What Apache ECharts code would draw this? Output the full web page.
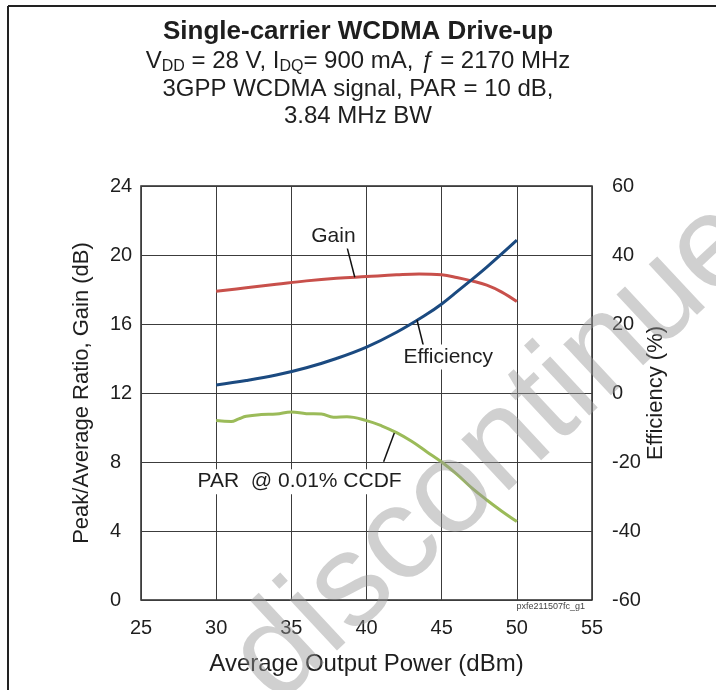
<!DOCTYPE html>
<html>
<head>
<meta charset="utf-8">
<title>Single-carrier WCDMA Drive-up</title>
<script src="https://cdn.jsdelivr.net/npm/echarts@6/dist/echarts.min.js"></script>
<style>
  html, body { margin: 0; padding: 0; background: #fff; }
  #main { width: 716px; height: 690px; }
</style>
</head>
<body>
<div id="main"></div>
<script>
// values
var gainX = [30, 32, 34, 36, 38, 40, 42, 43.5, 45, 46, 47, 48, 49, 50];
var gain = [17.9, 18.1, 18.3, 18.5, 18.65, 18.75, 18.85, 18.9, 18.85, 18.7, 18.5, 18.25, 17.85, 17.3];

var effX = [30, 32, 34, 36, 38, 40, 42, 44, 45, 46, 48, 50];
var eff = [2.3, 3.6, 5.2, 7.3, 10.0, 13.3, 17.6, 22.8, 25.8, 29.3, 36.5, 44.3];

var parX = [30, 31, 31.5, 32, 33, 34, 35, 36, 37, 37.8, 38.7, 40, 41, 42, 43, 44, 45, 46, 47, 48, 49, 50];
var par = [10.4, 10.35, 10.5, 10.65, 10.75, 10.78, 10.9, 10.8, 10.78, 10.6, 10.62, 10.4, 10.1, 9.7, 9.2, 8.6, 8.0, 7.3, 6.5, 5.8, 5.15, 4.55];

var xTicks = [25, 30, 35, 40, 45, 50, 55];
var leftTicks = [0, 4, 8, 12, 16, 20, 24];
var rightTicks = [-60, -40, -20, 0, 20, 40, 60];

function pairs(xs, ys) {
  var out = [];
  for (var i = 0; i < xs.length; i++) out.push([xs[i], ys[i]]);
  return out;
}

var FONT = '"Liberation Sans", Arial, Helvetica, sans-serif';
var INK = '#1e1e1e';
var GRIDC = '#3c3c3c';

var noteLabel = {
  show: true,
  position: 'inside',
  fontFamily: FONT,
  fontSize: 21,
  color: INK,
  backgroundColor: '#fff',
  padding: [2, 4]
};
var leader = { color: '#111', width: 1.5, type: 'solid' };

function note(x, y, text) {
  return {
    coord: [x, y],
    symbol: 'circle',
    symbolSize: 1,
    itemStyle: { color: 'rgba(0,0,0,0)' },
    label: Object.assign({}, noteLabel, { formatter: text })
  };
}

var subStyle = { fontFamily: FONT, fontSize: 24, fontWeight: 'normal', color: INK, lineHeight: 28 };

var myChart = echarts.init(document.getElementById('main'));

var option = {
  backgroundColor: '#fff',
  animation: false,
  textStyle: { fontFamily: FONT },
  title: [
    {
      text: 'Single-carrier WCDMA Drive-up',
      left: 'center', top: 17, padding: 0,
      textStyle: { fontFamily: FONT, fontSize: 26, fontWeight: 'bold', color: INK, lineHeight: 30 }
    },
    {
      text: '{n|V}{s|DD}{n| = 28 V, I}{s|DQ}{n|= 900 mA, }{i|ƒ}{n| = 2170 MHz}',
      left: 'center', top: 47, padding: 0,
      textStyle: Object.assign({}, subStyle, {
        rich: {
          n: subStyle,
          s: { fontFamily: FONT, fontSize: 16, fontWeight: 'normal', color: INK, lineHeight: 10, verticalAlign: 'bottom' },
          i: Object.assign({}, subStyle, { fontStyle: 'italic' })
        }
      })
    },
    {
      text: '3GPP WCDMA signal, PAR = 10 dB,',
      left: 'center', top: 75, padding: 0,
      textStyle: subStyle
    },
    {
      text: '3.84 MHz BW',
      left: 'center', top: 102, padding: 0,
      textStyle: subStyle
    }
  ],
  grid: {
    left: 141, right: 124, top: 186, bottom: 90,
    show: true, borderColor: '#2a2a2a', borderWidth: 1.5
  },
  xAxis: {
    type: 'value',
    min: xTicks[0], max: xTicks[xTicks.length - 1], interval: 5,
    name: 'Average Output Power (dBm)',
    nameLocation: 'middle', nameGap: 52, nameMoveOverlap: false,
    nameTextStyle: { fontFamily: FONT, fontSize: 24, color: INK },
    axisLine: { show: false },
    axisTick: { show: false },
    axisLabel: { fontFamily: FONT, fontSize: 20, color: INK, margin: 18 },
    splitLine: { show: true, lineStyle: { color: GRIDC, width: 1 } }
  },
  yAxis: [
    {
      type: 'value',
      min: leftTicks[0], max: leftTicks[leftTicks.length - 1], interval: 4,
      name: 'Peak/Average Ratio, Gain (dB)',
      nameLocation: 'middle', nameGap: 48, nameRotate: 90, nameMoveOverlap: false,
      nameTextStyle: { fontFamily: FONT, fontSize: 22, color: INK },
      axisLine: { show: false },
      axisTick: { show: false },
      axisLabel: { fontFamily: FONT, fontSize: 20, color: INK, margin: 31, align: 'left' },
      splitLine: { show: true, lineStyle: { color: GRIDC, width: 1 } }
    },
    {
      type: 'value',
      position: 'right',
      min: rightTicks[0], max: rightTicks[rightTicks.length - 1], interval: 20,
      name: 'Efficiency (%)',
      nameLocation: 'middle', nameGap: 53, nameRotate: 90, nameMoveOverlap: false,
      nameTextStyle: { fontFamily: FONT, fontSize: 22, color: INK },
      axisLine: { show: false },
      axisTick: { show: false },
      axisLabel: { fontFamily: FONT, fontSize: 20, color: INK, margin: 20 },
      splitLine: { show: false }
    }
  ],
  series: [
    {
      name: 'Gain',
      type: 'line',
      yAxisIndex: 0,
      smooth: 0.4,
      showSymbol: false,
      lineStyle: { color: '#c8504b', width: 3 },
      itemStyle: { color: '#c8504b' },
      data: pairs(gainX, gain),
      markLine: {
        silent: true, symbol: ['none', 'none'], label: { show: false },
        lineStyle: leader,
        data: [[{ coord: [38.72, 20.4] }, { coord: [39.22, 18.71] }]]
      },
      markPoint: { silent: true, data: [note(37.8, 21.1, 'Gain')] }
    },
    {
      name: 'Efficiency',
      type: 'line',
      yAxisIndex: 1,
      smooth: 0.4,
      showSymbol: false,
      lineStyle: { color: '#1b4a80', width: 3 },
      itemStyle: { color: '#1b4a80' },
      data: pairs(effX, eff),
      markLine: {
        silent: true, symbol: ['none', 'none'], label: { show: false },
        lineStyle: leader,
        data: [[{ coord: [43.36, 21.15] }, { coord: [43.8, 13.4] }]]
      },
      markPoint: { silent: true, data: [note(45.44, 10.45, 'Efficiency')] }
    },
    {
      name: 'PAR',
      type: 'line',
      yAxisIndex: 0,
      smooth: 0.4,
      showSymbol: false,
      lineStyle: { color: '#9bbb59', width: 3 },
      itemStyle: { color: '#9bbb59' },
      data: pairs(parX, par),
      markLine: {
        silent: true, symbol: ['none', 'none'], label: { show: false },
        lineStyle: leader,
        data: [[{ coord: [41.85, 9.68] }, { coord: [41.14, 8.02] }]]
      },
      markPoint: { silent: true, data: [note(35.55, 6.86, 'PAR  @ 0.01% CCDF')] }
    }
  ],
  graphic: [
    // page frame
    { type: 'line', shape: { x1: 8, y1: 6, x2: 716, y2: 6 }, style: { stroke: '#222', lineWidth: 2 } },
    { type: 'line', shape: { x1: 8, y1: 6, x2: 8, y2: 690 }, style: { stroke: '#222', lineWidth: 2 } },
    {
      type: 'text', x: 585, y: 607,
      style: { text: 'pxfe211507fc_g1', fontFamily: FONT, fontSize: 9, fill: '#444', align: 'right', verticalAlign: 'middle' }
    },
    // watermark
    {
      type: 'text', x: 252, y: 680, rotation: 43 * Math.PI / 180, z: 100,
      style: {
        text: 'discontinued', fontFamily: FONT, fontSize: 132,
        fill: 'rgba(150,150,150,0.45)', align: 'left', verticalAlign: 'middle'
      }
    }
  ]
};

myChart.setOption(option);
</script>
</body>
</html>
